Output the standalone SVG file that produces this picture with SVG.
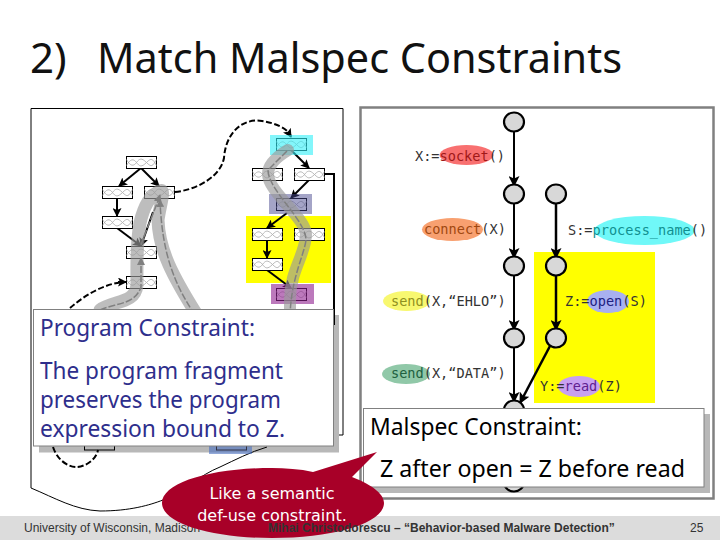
<svg xmlns="http://www.w3.org/2000/svg" width="720" height="540" viewBox="0 0 720 540">
<style>
.box{fill:#fff;stroke:#000;stroke-width:1}
.sq{fill:none;stroke:#a8a8a8;stroke-width:.8}
.edge{fill:none;stroke:#000;stroke-width:2;marker-end:url(#ah)}
.dash{fill:none;stroke:#000;stroke-width:2;stroke-dasharray:6 2.500}
.band{fill:none;stroke:#9a9a9a;stroke-opacity:.65;stroke-width:12;stroke-linecap:round}
.inner{fill:none;stroke:#808080;stroke-width:1.500;stroke-dasharray:7 2}
.cir{fill:#d8d8d8;stroke:#000;stroke-width:2.200}
.thick{stroke:#000;stroke-width:2;fill:none;marker-end:url(#ah2)}
.m{font-family:"DejaVu Sans Mono",monospace;font-size:13.6px;fill:#333}
.h{font-family:"Noto Sans",sans-serif;font-size:23px;fill:#2e2e8c}
.k{font-family:"Noto Sans",sans-serif;font-size:23px;fill:#000}
.w{font-family:"DejaVu Sans",sans-serif;font-size:16px;fill:#fff;text-anchor:middle}
.f{font-family:"Liberation Sans",Arial,sans-serif;font-size:12px;fill:#333}
</style>
<defs>
<marker id="ah" markerWidth="9" markerHeight="9" refX="8" refY="4.500" orient="auto" markerUnits="userSpaceOnUse" viewBox="0 0 9 9"><path d="M0,0L9,4.500L0,9L2,4.500Z" fill="#000"/></marker>
<marker id="ah2" markerWidth="11" markerHeight="11" refX="10" refY="5.500" orient="auto" markerUnits="userSpaceOnUse" viewBox="0 0 11 11"><path d="M0,0L11,5.500L0,11L2.500,5.500Z" fill="#000"/></marker>
<marker id="ahg" markerWidth="8" markerHeight="8" refX="7" refY="4" orient="auto" markerUnits="userSpaceOnUse" viewBox="0 0 8 8"><path d="M0,0L8,4L0,8Z" fill="#808080"/></marker>
<path id="sq" d="M0,9C4,2 7,2 10,6S15,11 20,6S26,2 30,9M0,3C4,10 7,10 10,6S15,1 20,6S26,10 30,3"/>
</defs>
<rect width="720" height="540" fill="#fff"/>
<text font-family="'Noto Sans',sans-serif" font-size="42" fill="#111" y="73"><tspan x="30">2)</tspan></text>
<text x="97" y="73" font-family="'Noto Sans',sans-serif" font-size="42" fill="#111" textLength="525" lengthAdjust="spacingAndGlyphs">Match Malspec Constraints</text>

<g id="program-shadow"><rect x="39" y="315" width="300" height="137.500" fill="#b8b8b8"/></g>
<g id="left-panel">
<path d="M31,488V108.500H343V435H339M31,488C55,498 75,510 100,511C130,511 150,505 163,500C185,490 200,475 220,467C235,460 250,452 267,447" fill="none" stroke="#000" stroke-width="1"/>
</g>
<g id="highlights">
<rect x="246" y="216" width="85" height="67" fill="#ffff00"/>
</g>
<g id="connectors">
<path class="edge" d="M141,168L119,186"/>
<path class="edge" d="M141,168L159,186"/>
<path class="edge" d="M117,198V216"/>
<path class="edge" d="M117,228L141,246"/>
<path class="edge" d="M153,212L141,246"/>
<path class="edge" d="M291,150L309,168"/>
<path class="edge" d="M309,180L291,198"/>
<path class="edge" d="M287,213L267,228"/>
<path class="edge" d="M267,240V258"/>
<path class="edge" d="M267,270L291,288"/>
<path class="dash" d="M175,192C195,190 220,178 224,158C226,130 245,118 262,121C275,123 287,128 291,136"/>
<path class="dash" d="M70,308C85,295 105,283 125,282"/>
<path class="edge" d="M118,282L126,282"/>
<path class="edge" d="M288,132L291,137"/>
<path d="M324,174H334V325" fill="none" stroke="#000" stroke-width="2"/>
<path class="dash" d="M53,447C58,462 70,467 76,467C85,467 96,460 98,450"/>
</g>
<g id="nodes-left">
<g id="n1"><rect class="box" x="126.500" y="156.500" width="30" height="12"/><use href="#sq" x="126.500" y="156.500" class="sq"/></g>
<g id="n2"><rect class="box" x="102.500" y="186.500" width="30" height="12"/><use href="#sq" x="102.500" y="186.500" class="sq"/></g>
<g id="n3"><rect class="box" x="144.500" y="186.500" width="30" height="12"/><use href="#sq" x="144.500" y="186.500" class="sq"/></g>
<g id="n4"><rect class="box" x="102.500" y="216.500" width="30" height="12"/><use href="#sq" x="102.500" y="216.500" class="sq"/></g>
<g id="n5"><rect class="box" x="126.500" y="246.500" width="30" height="12"/><use href="#sq" x="126.500" y="246.500" class="sq"/></g>
<g id="n6"><rect class="box" x="126.500" y="276.500" width="30" height="12"/><use href="#sq" x="126.500" y="276.500" class="sq"/></g>
<g id="n7"><rect class="box" x="276.500" y="138.500" width="30" height="12"/><use href="#sq" x="276.500" y="138.500" class="sq"/></g>
<g id="n8"><rect class="box" x="252.500" y="168.500" width="30" height="12"/><use href="#sq" x="252.500" y="168.500" class="sq"/></g>
<g id="n9"><rect class="box" x="294.500" y="168.500" width="30" height="12"/><use href="#sq" x="294.500" y="168.500" class="sq"/></g>
<g id="n10"><rect class="box" x="276.500" y="198.500" width="30" height="12"/><use href="#sq" x="276.500" y="198.500" class="sq"/></g>
<g id="n11"><rect class="box" x="252.500" y="228.500" width="30" height="12"/><use href="#sq" x="252.500" y="228.500" class="sq"/></g>
<g id="n12"><rect class="box" x="294.500" y="228.500" width="30" height="12"/><use href="#sq" x="294.500" y="228.500" class="sq"/></g>
<g id="n13"><rect class="box" x="252.500" y="258.500" width="30" height="12"/><use href="#sq" x="252.500" y="258.500" class="sq"/></g>
<g id="n14"><rect class="box" x="276.500" y="288.500" width="30" height="12"/><use href="#sq" x="276.500" y="288.500" class="sq"/></g>
<g id="n15"><rect class="box" x="84.500" y="438" width="30" height="12" fill="none" style="fill:none"/></g>
</g>
<g id="overlays">
<rect x="270" y="135" width="43" height="20" fill="#30f0f8" fill-opacity=".6"/>
<rect x="269" y="194" width="43" height="20" fill="#4a4a90" fill-opacity=".5"/>
<rect x="271" y="284" width="43" height="20" fill="#902090" fill-opacity=".6"/>
<rect x="209" y="434" width="43" height="20" fill="#4a70c0" fill-opacity=".6"/>
<rect x="216.500" y="438" width="30" height="12" fill="none" stroke="#334"/>
<path class="band" d="M288,150C278,156 268,164 268,174C268,192 306,218 306,234C306,254 290,270 290,300V320"/>
<path class="inner" d="M287,151L268,170C268,190 306,220 306,240C304,256 290,280 290,320" marker-end="url(#ahg)"/>
<path class="band" stroke-width="13" d="M100,310C112,300 135,305 137,285C137,265 136,245 140,223C144,205 150,195 160,191C166,188 160,205 158,220C159,250 172,275 197,315" style="stroke-width:13"/>
<path class="inner" d="M100,310C115,303 135,305 141,287V258" marker-end="url(#ahg)"/>
<path class="inner" d="M141,245C148,225 155,210 160,195" marker-end="url(#ahg)"/>
<path class="inner" d="M195,315C175,285 162,255 160,200" marker-end="url(#ahg)"/>
</g>

<g id="right-panel">
<rect x="360.500" y="107.500" width="353" height="391" fill="#fff" stroke="#808080" stroke-width="2.500"/>
<rect x="534" y="252" width="121" height="151" fill="#ffff00"/>
<rect x="369" y="414" width="341" height="79" fill="#b8b8b8"/>
</g>
<g id="labels-bg">
<ellipse cx="466.500" cy="155" rx="27" ry="10" fill="#f87070"/>
<ellipse cx="452.500" cy="229.500" rx="30.500" ry="11.500" fill="#f8a070"/>
<ellipse cx="644.500" cy="230.500" rx="50" ry="14.500" fill="#70f8f8"/>
<ellipse cx="406.500" cy="301" rx="23.500" ry="10" fill="#f8f870"/>
<ellipse cx="608" cy="301.500" rx="21" ry="11.500" fill="#a8b0f0"/>
<ellipse cx="406" cy="374" rx="24" ry="10" fill="#90c8a8"/>
<ellipse cx="579" cy="386.500" rx="21" ry="10.500" fill="#c8a0f0"/>
</g>
<g id="flow">
<path class="thick" d="M514,131V186"/>
<path class="thick" d="M514,203V258"/>
<path class="thick" d="M556,203V258" style="stroke-width:2.500"/>
<path class="thick" d="M514,275V330"/>
<path class="thick" d="M556,275V330" style="stroke-width:2.500"/>
<path class="thick" d="M514,347V402"/>
<path class="thick" d="M550,346L520,403" style="stroke-width:2.500"/>
</g>
<g id="circles">
<ellipse id="c1" class="cir" cx="514" cy="122" rx="10" ry="9.500"/>
<ellipse id="c2" class="cir" cx="514" cy="194" rx="10" ry="9.500"/>
<ellipse id="c3" class="cir" cx="556" cy="194" rx="10" ry="9.500"/>
<ellipse id="c4" class="cir" cx="514" cy="266" rx="10" ry="9.500"/>
<ellipse id="c5" class="cir" cx="556" cy="266" rx="10" ry="9.500"/>
<ellipse id="c6" class="cir" cx="514" cy="338" rx="10" ry="9.500"/>
<ellipse id="c7" class="cir" cx="556" cy="338" rx="10" ry="9.500"/>
<ellipse id="c8" class="cir" cx="514" cy="410" rx="10" ry="9.500"/>
<ellipse id="c9" class="cir" cx="514" cy="482" rx="10" ry="9.500"/>
</g>
<g id="code-labels">
<text class="m" x="415" y="161">X:=<tspan fill="#a01818">socket</tspan>()</text>
<text class="m" x="424" y="234"><tspan fill="#a04810">connect</tspan>(X)</text>
<text class="m" x="568" y="235">S:=<tspan fill="#109090">process_name</tspan>()</text>
<text class="m" x="391" y="306"><tspan fill="#909020">send</tspan>(X,“EHLO”)</text>
<text class="m" x="565" y="306">Z:=<tspan fill="#202080">open</tspan>(S)</text>
<text class="m" x="391" y="378"><tspan fill="#206040">send</tspan>(X,“DATA”)</text>
<text class="m" x="540" y="391">Y:=<tspan fill="#602090">read</tspan>(Z)</text>
</g>

<g id="program-constraint">
<rect x="33.500" y="309.500" width="300" height="136.500" fill="#fff" stroke="#808080"/>
<text class="h" x="40" y="336" textLength="215" lengthAdjust="spacingAndGlyphs">Program Constraint:</text>
<text class="h" x="40" y="379" textLength="243" lengthAdjust="spacingAndGlyphs">The program fragment</text>
<text class="h" x="40" y="408" textLength="241" lengthAdjust="spacingAndGlyphs">preserves the program</text>
<text class="h" x="40" y="437" textLength="245" lengthAdjust="spacingAndGlyphs">expression bound to Z.</text>
</g>
<g id="malspec-constraint">
<rect x="363.500" y="408.500" width="340.500" height="78.500" fill="#fff" stroke="#808080"/>
<text class="k" x="370" y="435" textLength="212" lengthAdjust="spacingAndGlyphs">Malspec Constraint:</text>
<text class="k" x="380" y="477" textLength="305" lengthAdjust="spacingAndGlyphs">Z after open = Z before read</text>
</g>

<g id="footer">
<rect x="0" y="516" width="720" height="24" fill="#dcdcdc"/>
<text class="f" x="24" y="532">University of Wisconsin, Madison</text>
</g>
<g id="callout">
<path d="M162,503C162,483 210,468 272,468C285,468 300,469 313,472L377,452L352,477C375,486 384,495 384,503C384,523 335,538 272,538C210,538 162,523 162,503Z" fill="#a80028"/>
<text class="w" x="272" y="499">Like a semantic</text>
<text class="w" x="272" y="521">def-use constraint.</text>
</g>
<g id="footer-text">
<text class="f" x="268" y="532" font-weight="700" fill="#333">Mihai Christodorescu – “Behavior-based Malware Detection”</text>
<text class="f" x="690" y="532">25</text>
</g>
</svg>
